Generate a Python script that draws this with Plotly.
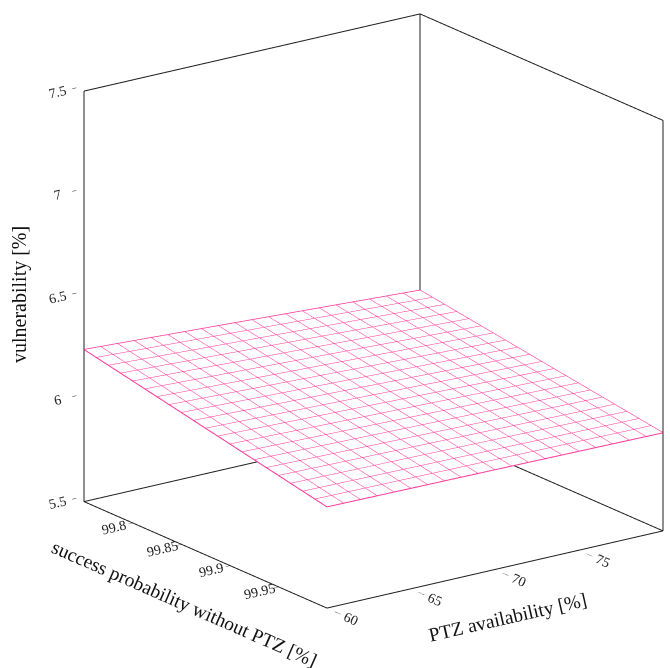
import math
import plotly.graph_objects as go

# Grid of the measured surface (PTZ availability x success probability)
ptz_availability = [60, 70, 80]
success_prob = [99.75, 99.875, 100.0]
# vulnerability[row = success_prob index][col = ptz_availability index]
vulnerability = [
    [6.241, 6.198, 6.154],
    [6.117, 6.092, 6.066],
    [5.993, 5.986, 5.978],
]

x_ticks = [60, 65, 70, 75, 80]
y_ticks = [99.8, 99.85, 99.9, 99.95]
z_ticks = [5.5, 6, 6.5, 7, 7.5]

x_range = [60, 80]
y_range = [99.75, 100]
z_range = [5.5, 7.5]

MESH = "#ff3399"
EDGE = "#1e1e1e"
FONT = "Liberation Serif"


def padded(rng, frac=0.0005):
    # tiny margin so the box edges sitting on the bounds are not clipped
    d = (rng[1] - rng[0]) * frac
    return [rng[0] - d, rng[1] + d]


fig = go.Figure()

fig.add_trace(go.Surface(
    x=ptz_availability, y=success_prob, z=vulnerability,
    colorscale=[[0, "white"], [1, "white"]], showscale=False,
    lighting=dict(ambient=1, diffuse=0, specular=0, fresnel=0, roughness=1),
    hoverinfo="skip",
    contours=dict(
        x=dict(show=True, start=60, end=80, size=1, color=MESH, width=2,
               highlight=False, usecolormap=False),
        y=dict(show=True, start=99.75, end=100, size=0.0125, color=MESH, width=2,
               highlight=False, usecolormap=False),
        z=dict(show=False, highlight=False),
    ),
))

# outline of the mesh, taken from the border of the grid
bx, by, bz = [], [], []
nr, nc = len(success_prob), len(ptz_availability)
border = ([(0, c) for c in range(nc)] + [(r, nc - 1) for r in range(1, nr)]
          + [(nr - 1, c) for c in range(nc - 2, -1, -1)] + [(r, 0) for r in range(nr - 2, -1, -1)])
for r, c in border:
    bx.append(ptz_availability[c]); by.append(success_prob[r]); bz.append(vulnerability[r][c])
fig.add_trace(go.Scatter3d(x=bx, y=by, z=bz, mode="lines",
                           line=dict(color=MESH, width=2), hoverinfo="skip", showlegend=False))

# box edges (back panes and base)
x0, x1 = x_range
y0, y1 = y_range
z0, z1 = z_range
segs = [
    ((x0, y0, z0), (x0, y0, z1)),
    ((x1, y0, z0), (x1, y0, z1)),
    ((x1, y1, z0), (x1, y1, z1)),
    ((x0, y0, z1), (x1, y0, z1)),
    ((x1, y0, z1), (x1, y1, z1)),
    ((x0, y0, z0), (x1, y0, z0)),
    ((x1, y0, z0), (x1, y1, z0)),
    ((x0, y0, z0), (x0, y1, z0)),
    ((x0, y1, z0), (x1, y1, z0)),
]
ex, ey, ez = [], [], []
for a, b in segs:
    ex += [a[0], b[0], None]; ey += [a[1], b[1], None]; ez += [a[2], b[2], None]
fig.add_trace(go.Scatter3d(x=ex, y=ey, z=ez, mode="lines",
                           line=dict(color=EDGE, width=2), hoverinfo="skip", showlegend=False))

axis_common = dict(showgrid=False, zeroline=False, showbackground=False, showspikes=False,
                   showline=False, ticks="outside", tickcolor=EDGE,
                   tickfont=dict(family=FONT, size=13, color="#222"), title=dict(text=""))

# view: azimuth / elevation of the camera, orthographic projection
az = math.radians(234.1)
el = math.radians(18.5)
view_dir = (math.cos(el) * math.cos(az), math.cos(el) * math.sin(az), math.sin(el))
# shift the look-at point so the box sits right/up of the page centre
right = (-math.sin(az), math.cos(az), 0.0)
up = (-math.sin(el) * math.cos(az), -math.sin(el) * math.sin(az), math.cos(el))
px_unit = 334.0
shift_r, shift_u = 38.5, 23.0
ctr = tuple(-(shift_r * right[i] + shift_u * up[i]) / px_unit for i in range(3))
DIST = 2.0
eye = tuple(ctr[i] + DIST * view_dir[i] for i in range(3))

zoom = 0.932
fig.update_layout(
    width=670, height=668, margin=dict(l=0, r=0, t=0, b=0),
    paper_bgcolor="white", showlegend=False,
    scene=dict(
        domain=dict(x=[0, 1], y=[0, 1]),
        xaxis=dict(range=padded(x_range), tickvals=x_ticks, ticklen=5, **axis_common),
        yaxis=dict(range=padded(y_range)[::-1], autorange="reversed", tickvals=y_ticks,
                   ticktext=[f"{v:g}" for v in y_ticks], ticklen=10, **axis_common),
        zaxis=dict(range=padded(z_range), tickvals=z_ticks, ticklen=5, **axis_common),
        aspectmode="manual",
        aspectratio=dict(x=1.334 * zoom, y=1.414 * zoom, z=1.392 * zoom),
        camera=dict(projection=dict(type="orthographic"),
                    eye=dict(x=eye[0], y=eye[1], z=eye[2]),
                    up=dict(x=0, y=0, z=1),
                    center=dict(x=ctr[0], y=ctr[1], z=ctr[2])),
    ),
    annotations=[
        dict(text="vulnerability [%]", x=20 / 670, y=1 - 295 / 668, xref="paper", yref="paper",
             xanchor="center", yanchor="middle", showarrow=False, textangle=-90,
             font=dict(family=FONT, size=20, color="#111")),
        dict(text="success probability without PTZ [%]", x=184 / 670, y=1 - 603 / 668,
             xref="paper", yref="paper", xanchor="center", yanchor="middle",
             showarrow=False, textangle=23.7, font=dict(family=FONT, size=19.5, color="#111")),
        dict(text="PTZ availability [%]", x=507 / 670, y=1 - 617 / 668, xref="paper",
             yref="paper", xanchor="center", yanchor="middle", showarrow=False,
             textangle=-12.9, font=dict(family=FONT, size=19.5, color="#111")),
    ],
)

fig.write_html("out.html")
